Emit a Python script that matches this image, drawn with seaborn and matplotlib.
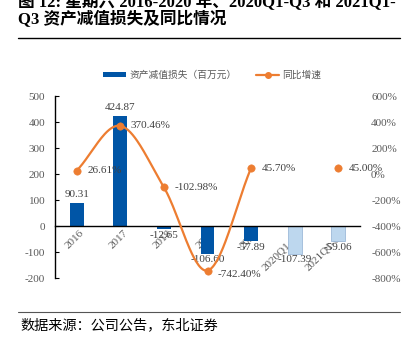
import numpy as np
import pandas as pd
import matplotlib
matplotlib.use("Agg")
import matplotlib.pyplot as plt
import matplotlib.transforms as mtransforms
from matplotlib.patches import Patch
from matplotlib.lines import Line2D
import seaborn as sns

categories = ["2016", "2017", "2018", "2019", "2020", "2020Q1-Q3", "2021Q1-Q3"]
loss = [90.31, 424.87, -12.65, -106.60, -57.89, -107.39, -59.06]
growth = [26.61, 370.46, -102.98, -742.40, 45.70, np.nan, 45.00]
loss_labels = ["90.31", "424.87", "-12.65", "-106.60", "-57.89", "-107.39", "-59.06"]
growth_labels = ["26.61%", "370.46%", "-102.98%", "-742.40%", "45.70%", "", "45.00%"]
left_ticks = [-200, -100, 0, 100, 200, 300, 400, 500]
right_ticks = [-800, -600, -400, -200, 0, 200, 400, 600]

sns.set_theme(style="white")
plt.rcParams['font.family'] = ['Liberation Serif', 'Noto Sans CJK SC']
plt.rcParams['axes.unicode_minus'] = False

DARK = "#0055A6"
LIGHT = "#BDD7EE"
ORANGE = "#ED7D31"
GRAY = "#595959"
FS = 8

fig = plt.figure(figsize=(4.17, 3.47), dpi=100)
ax = fig.add_axes([55/417, 1-278/347, 305/417, 182/347])

df = pd.DataFrame({"cat": categories, "val": loss})
colors = [DARK]*5 + [LIGHT]*2
sns.barplot(data=df, x="cat", y="val", hue="cat", palette=colors, legend=False,
            width=0.32, ax=ax, saturation=1)
for i, p in enumerate(ax.patches):
    if i >= 5:
        p.set_edgecolor("#9DB9D9")
        p.set_linewidth(0.6)
    else:
        p.set_linewidth(0)

ax.set_ylim(-200, 500)
ax.set_xlim(-0.5, 6.5)
ax.set_yticks(left_ticks)
ax.set_xlabel("")
ax.set_ylabel("")
for s in ["top", "right"]:
    ax.spines[s].set_visible(False)
ax.spines["bottom"].set_position(("data", 0))
ax.spines["bottom"].set_color("black")
ax.spines["bottom"].set_linewidth(1.0)
ax.spines["left"].set_color("black")
ax.spines["left"].set_linewidth(1.0)
ax.tick_params(axis="y", direction="in", length=3, width=0.8, color="black",
               labelsize=FS, labelcolor=GRAY, pad=7, left=True)
ax.tick_params(axis="x", length=0, labelsize=FS, labelcolor=GRAY, pad=2)
ax.set_xticks(range(len(categories)))
ax.set_xticklabels(categories)
for lab in ax.get_xticklabels():
    lab.set_rotation(45)
    lab.set_ha("right")
    lab.set_va("top")
    lab.set_rotation_mode("anchor")
    lab.set_transform(lab.get_transform() + mtransforms.ScaledTranslation(3/100, 0, fig.dpi_scale_trans))

for i, (v, t) in enumerate(zip(loss, loss_labels)):
    if v >= 0:
        ax.text(i, v + 12, t, ha="center", va="bottom", fontsize=FS, color="#404040")
    else:
        ax.text(i, v - 6, t, ha="center", va="top", fontsize=FS, color="#404040")

ax2 = ax.twinx()
ax2.set_ylim(-800, 600)
ax2.set_yticks(right_ticks)
ax2.set_yticklabels([f"{t}%" for t in right_ticks])
for s in ax2.spines.values():
    s.set_visible(False)
ax2.tick_params(axis="y", length=0, labelsize=FS, labelcolor=GRAY, pad=8)
ax2.grid(False)
ax.grid(False)

# smoothed line (Catmull-Rom) through first 5 points
xs = np.arange(5, dtype=float)
ys = np.array(growth[:5], dtype=float)
P = np.column_stack([xs, ys])
P = np.vstack([P[0] - (P[1] - P[0]), P, P[-1] + (P[-1] - P[-2])])
curve = []
for k in range(1, len(P) - 2):
    p0, p1, p2, p3 = P[k-1], P[k], P[k+1], P[k+2]
    t = np.linspace(0, 1, 40)[:, None]
    c = 0.5 * ((2*p1) + (-p0 + p2)*t + (2*p0 - 5*p1 + 4*p2 - p3)*t**2 + (-p0 + 3*p1 - 3*p2 + p3)*t**3)
    curve.append(c)
curve = np.vstack(curve)
ax2.plot(curve[:, 0], curve[:, 1], color=ORANGE, lw=1.6, zorder=3)
gdf = pd.DataFrame({"x": range(len(categories)), "g": growth}).dropna()
sns.scatterplot(data=gdf, x="x", y="g", color=ORANGE, s=28, edgecolor=ORANGE, ax=ax2, zorder=4)
ax2.set_xlabel("")
ax2.set_ylabel("")
for i, (g, t) in enumerate(zip(growth, growth_labels)):
    if t:
        dy = -30 if i == 3 else 0
        ax2.text(i + 0.24, g + dy, t, ha="left", va="center", fontsize=FS, color="#404040")

handles = [Patch(facecolor=DARK, edgecolor="none"),
           Line2D([0], [0], color=ORANGE, lw=1.6, marker="o", markersize=4)]
fig.legend(handles, ["资产减值损失（百万元）", "同比增速"], loc="center",
           bbox_to_anchor=(212/417, 1-75/347), ncol=2, frameon=False,
           prop={"family": ["Noto Sans CJK SC"], "size": 7}, labelcolor=GRAY,
           handlelength=2.4, handleheight=0.45, columnspacing=2.0, handletextpad=0.3)

# title
tfam = ['Liberation Serif', 'Noto Sans CJK SC']
fig.text(18/417, 1-2/347, "图 12: 星期六 2016-2020 年、2020Q1-Q3 和 2021Q1-", ha="left", va="center",
         fontsize=12, fontweight="bold", family=tfam, color="black")
fig.text(18/417, 1-20/347, "Q3 资产减值损失及同比情况", ha="left", va="center",
         fontsize=12, fontweight="bold", family=tfam, color="black")
fig.add_artist(Line2D([18/417, 400/417], [1-38/347, 1-38/347], color="black", lw=1.0))
fig.add_artist(Line2D([18/417, 400/417], [1-312/347, 1-312/347], color="#555555", lw=0.8))
fig.text(20/417, 1-325/347, "数据来源：公司公告，东北证券", ha="left", va="center",
         fontsize=10.2, family=["Noto Sans CJK SC"], color="black")

fig.savefig("out.png", dpi=100)
